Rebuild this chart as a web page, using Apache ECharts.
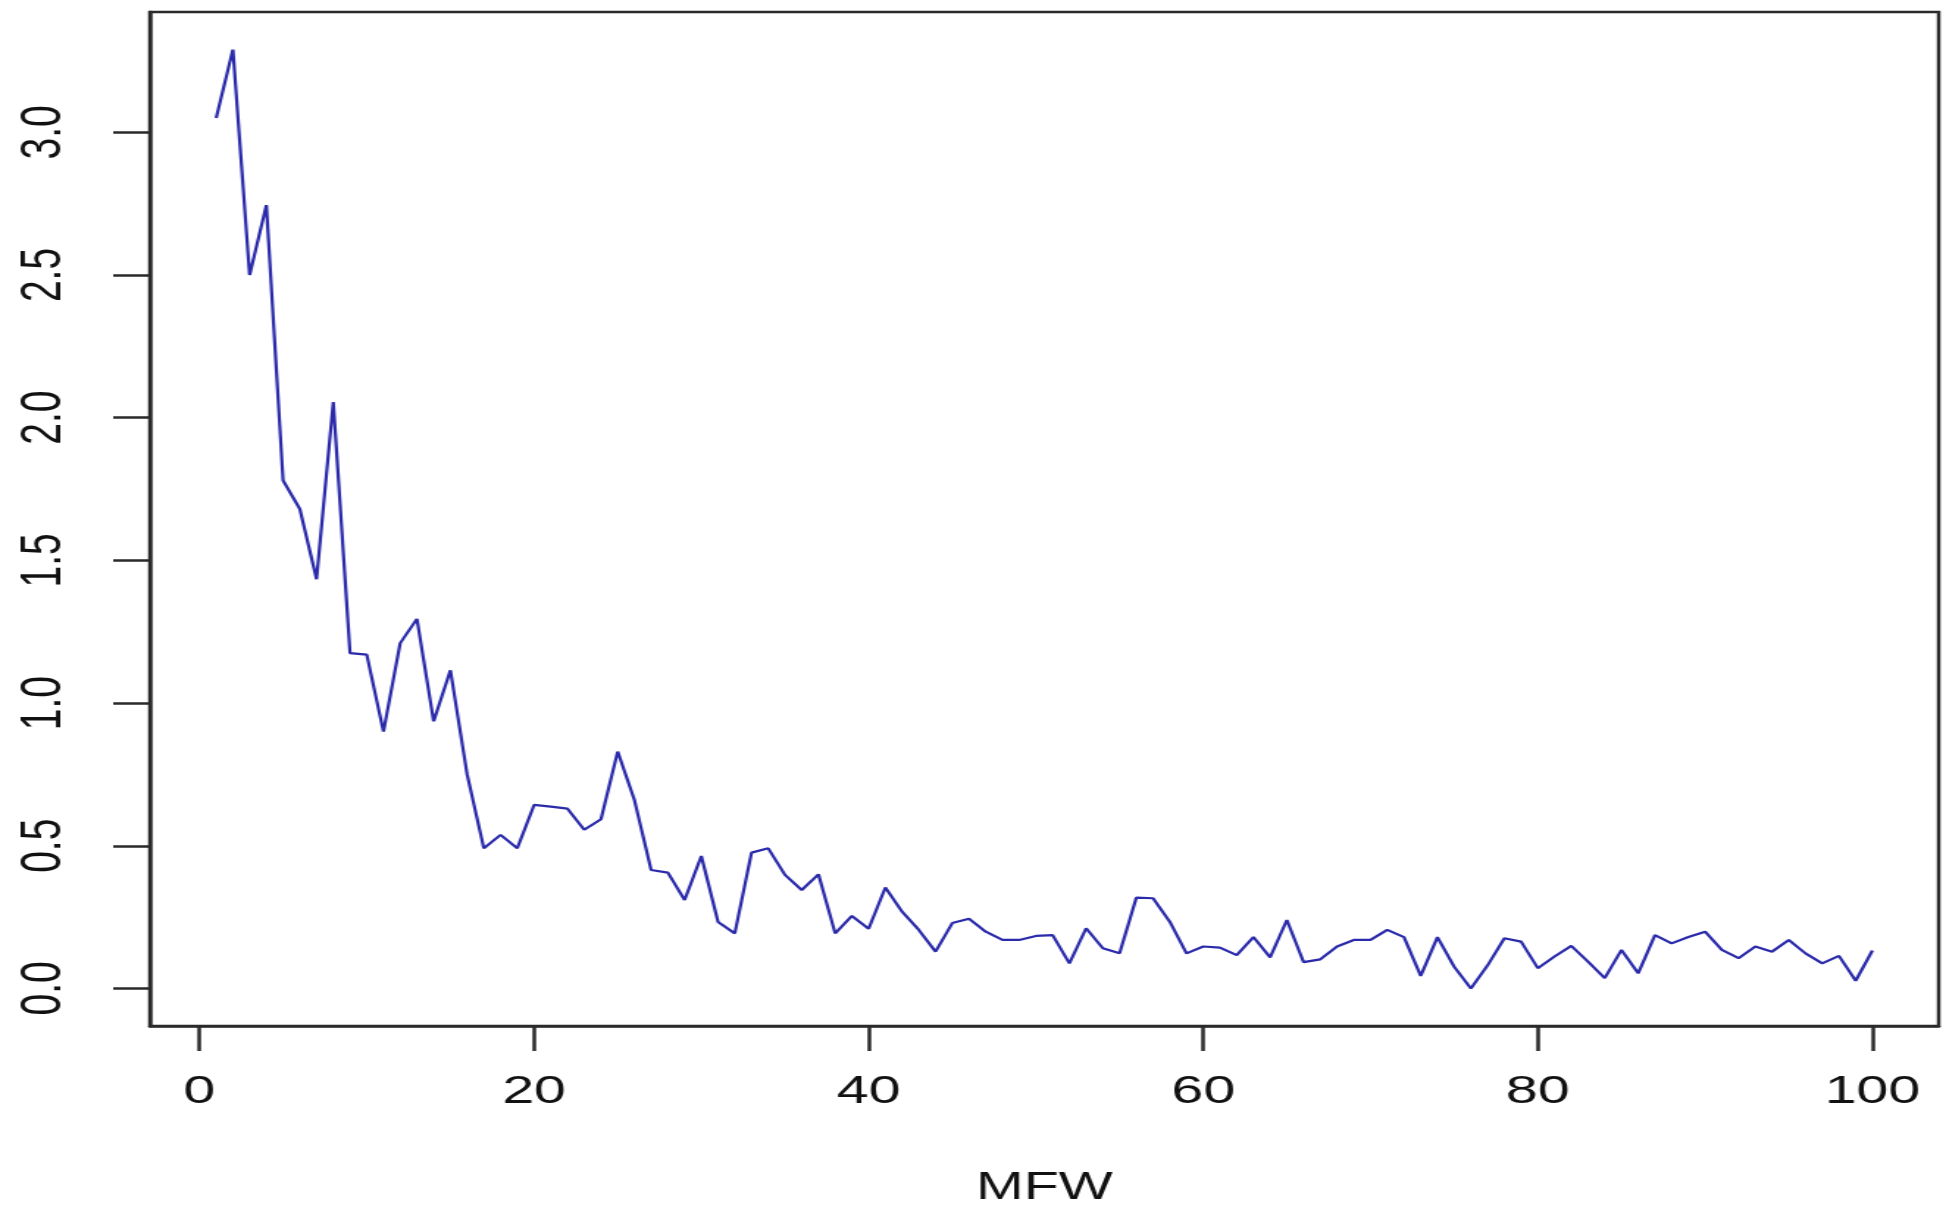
<!DOCTYPE html>
<html>
<head>
<meta charset="utf-8">
<script src="https://cdn.jsdelivr.net/npm/echarts@6/dist/echarts.min.js"></script>
<style>
  html, body { margin: 0; padding: 0; background: #ffffff; overflow: hidden; }
  #wrap { width: 1946px; height: 1211px; position: relative; overflow: hidden; background: #ffffff; }
  #chart { width: 1324px; height: 1211px; position: absolute; left: 0; top: 0;
           transform: scaleX(1.46979); transform-origin: 0 0; }
</style>
</head>
<body>
<div id="wrap"><div id="chart"></div></div>
<script>
// ---- data ----
const mfw = [1,2,3,4,5,6,7,8,9,10,11,12,13,14,15,16,17,18,19,20,
  21,22,23,24,25,26,27,28,29,30,31,32,33,34,35,36,37,38,39,40,
  41,42,43,44,45,46,47,48,49,50,51,52,53,54,55,56,57,58,59,60,
  61,62,63,64,65,66,67,68,69,70,71,72,73,74,75,76,77,78,79,80,
  81,82,83,84,85,86,87,88,89,90,91,92,93,94,95,96,97,98,99,100];
const values = [3.05,3.29,2.50,2.745,1.78,1.68,1.434,2.055,1.175,1.17,
  0.90,1.21,1.295,0.936,1.115,0.75,0.491,0.538,0.491,0.643,
  0.637,0.63,0.556,0.593,0.83,0.66,0.415,0.406,0.31,0.464,
  0.233,0.193,0.476,0.491,0.398,0.345,0.40,0.193,0.254,0.209,
  0.354,0.269,0.205,0.129,0.229,0.244,0.199,0.170,0.170,0.184,
  0.187,0.088,0.211,0.141,0.123,0.318,0.316,0.234,0.123,0.147,
  0.143,0.117,0.18,0.109,0.24,0.092,0.102,0.147,0.170,0.170,
  0.205,0.18,0.044,0.18,0.076,0.0,0.081,0.176,0.164,0.071,
  0.112,0.149,0.094,0.036,0.135,0.053,0.187,0.158,0.18,0.199,
  0.135,0.106,0.147,0.129,0.170,0.123,0.088,0.114,0.027,0.133];
const xTicks = [0,20,40,60,80,100];
const yTicks = [0,0.5,1.0,1.5,2.0,2.5,3.0];
const xTitle = 'MFW';

// R-style 4% axis extension
const xMin = 1 - 0.04*99, xMax = 100 + 0.04*99;
const yLo = Math.min(...values), yHi = Math.max(...values);
const yMin = yLo - 0.04*(yHi-yLo), yMax = yHi + 0.04*(yHi-yLo);

const chart = echarts.init(document.getElementById('chart'), null, {renderer: 'canvas'});
const font = 'Liberation Sans, Arial, Helvetica, sans-serif';
const ink = '#2a2a2a';
chart.setOption({
  animation: false,
  backgroundColor: '#ffffff',
  grid: { left: 102, right: 5, top: 12, bottom: 185, show: true,
          outerBoundsMode: 'none', containLabel: false,
          borderColor: ink, borderWidth: 2.5, backgroundColor: 'transparent' },
  xAxis: {
    type: 'value', min: xMin, max: xMax,
    name: xTitle, nameLocation: 'middle', nameGap: 162,
    nameTextStyle: { fontFamily: font, fontSize: 39, color: '#111', verticalAlign: 'middle' },
    axisLine: { show: true, onZero: false, lineStyle: { color: ink, width: 2.5 } },
    splitLine: { show: false },
    axisTick: { show: true, customValues: xTicks, length: 25, inside: false,
                lineStyle: { color: ink, width: 2.5 } },
    axisLabel: { show: true, customValues: xTicks, margin: 66, verticalAlign: 'middle',
                 fontFamily: font, fontSize: 39, color: '#111',
                 formatter: v => String(v) }
  },
  yAxis: {
    type: 'value', min: yMin, max: yMax,
    axisLine: { show: true, onZero: false, lineStyle: { color: ink, width: 2.5 } },
    splitLine: { show: false },
    axisTick: { show: true, customValues: yTicks, length: 25, inside: false,
                lineStyle: { color: ink, width: 2.5 } },
    axisLabel: { show: true, customValues: yTicks, rotate: 90, margin: 72,
                 verticalAlign: 'middle', align: 'center',
                 fontFamily: font, fontSize: 39, color: '#111',
                 formatter: v => v.toFixed(1) }
  },
  series: [{
    type: 'line',
    data: mfw.map((x, i) => [x, values[i]]),
    showSymbol: false,
    lineStyle: { color: '#2a2aab', width: 2.2 },
    clip: false
  }]
});
</script>
</body>
</html>
